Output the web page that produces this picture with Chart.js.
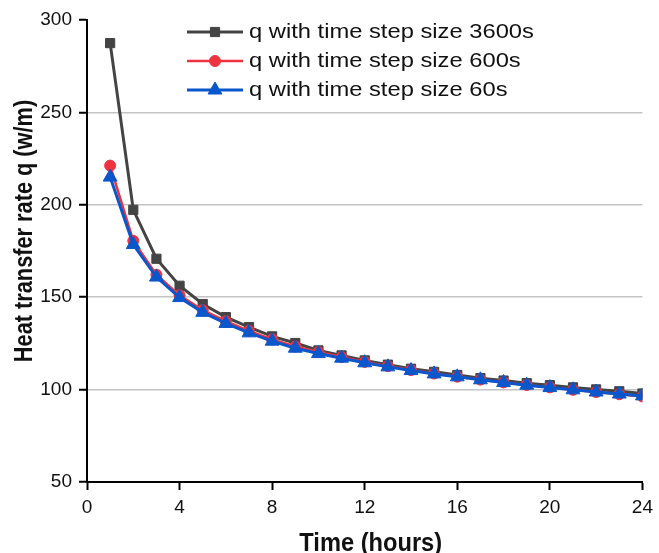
<!DOCTYPE html>
<html>
<head>
<meta charset="utf-8">
<script src="https://cdn.jsdelivr.net/npm/chart.js@4.4.1/dist/chart.umd.min.js"></script>
<style>
  html, body { margin: 0; padding: 0; background: #fff; }
  #container { width: 659px; height: 553px; position: relative; }
</style>
</head>
<body>
<div id="container"><canvas id="myChart"></canvas></div>
<script>
'use strict'
// heat transfer rate q (w/m) per hour for three time step sizes
const hours = [1, 2, 3, 4, 5, 6, 7, 8, 9, 10, 11, 12, 13, 14, 15, 16, 17, 18, 19, 20, 21, 22, 23, 24]
const q3600 = [287.5, 197.3, 170.8, 156.2, 146.3, 139.2, 133.8, 128.8, 125.2, 121.2, 118.5, 115.8, 113.5, 111.3, 109.6, 107.9, 106.2, 104.9, 103.5, 102.4, 101.2, 100.1, 99.1, 97.9]
const q600 = [221.2, 180.5, 162.2, 151.0, 143.0, 137.0, 131.8, 127.2, 123.3, 120.3, 117.6, 115.0, 112.7, 110.6, 108.7, 107.0, 105.4, 103.9, 102.5, 101.2, 99.9, 98.7, 97.5, 96.3]
const q60 = [215.0, 178.5, 160.9, 149.8, 141.8, 135.8, 130.7, 126.2, 122.4, 119.5, 117.0, 114.5, 112.3, 110.3, 108.5, 106.9, 105.3, 103.8, 102.4, 101.1, 99.9, 98.7, 97.6, 96.6]
const seriesNames = ["q with time step size 3600s", "q with time step size 600s", "q with time step size 60s"]
const xTicks = [0, 4, 8, 12, 16, 20, 24]
const yTicks = [50, 100, 150, 200, 250, 300]
const xTitle = "Time (hours)"
const yTitle = "Heat transfer rate q (w/m)"

const FONT = "'Liberation Sans', Arial, sans-serif"

function points(values) {
    return values.map((v, i) => ({ x: hours[i], y: v }))
}

// legend drawn inside the plot: line with marker, then label
const lineLegend = {
    id: 'lineLegend',
    afterDraw(chart) {
        const ctx = chart.ctx
        const x1 = 187, x2 = 243, xm = 215, xt = 249
        chart.data.datasets.forEach((ds, row) => {
            const y = 32 + row * 29
            ctx.save()
            ctx.strokeStyle = ds.borderColor
            ctx.lineWidth = ds.borderWidth
            ctx.beginPath()
            ctx.moveTo(x1, y)
            ctx.lineTo(x2, y)
            ctx.stroke()
            ctx.fillStyle = ds.pointBackgroundColor
            ctx.strokeStyle = ds.pointBorderColor
            ctx.lineWidth = ds.pointBorderWidth
            Chart.helpers.drawPoint(ctx, {
                pointStyle: ds.pointStyle,
                radius: ds.pointRadius,
                rotation: 0,
                borderWidth: ds.pointBorderWidth
            }, xm, y)
            ctx.fillStyle = '#111'
            ctx.font = '21px ' + FONT
            ctx.textBaseline = 'middle'
            ctx.textAlign = 'left'
            ctx.translate(xt, y)
            ctx.scale(1.13, 1)
            ctx.fillText(seriesNames[row], 0, 0)
            ctx.restore()
        })
    }
}

// axis titles
const axisTitles = {
    id: 'axisTitles',
    afterDraw(chart) {
        const ctx = chart.ctx
        const area = chart.chartArea
        ctx.save()
        ctx.fillStyle = '#111'
        ctx.font = 'bold 26px ' + FONT
        ctx.textAlign = 'center'
        ctx.textBaseline = 'alphabetic'
        ctx.translate((area.left + area.right) / 2 + 6, 551)
        ctx.scale(0.91, 1)
        ctx.fillText(xTitle, 0, 0)
        ctx.restore()

        ctx.save()
        ctx.fillStyle = '#111'
        ctx.font = 'bold 25px ' + FONT
        ctx.textAlign = 'center'
        ctx.textBaseline = 'alphabetic'
        ctx.translate(32, 231)
        ctx.rotate(-Math.PI / 2)
        ctx.scale(0.87, 1)
        ctx.fillText(yTitle, 0, 0)
        ctx.restore()
    }
}

const data = {
    datasets: [
        {
            label: seriesNames[0],
            data: points(q3600),
            borderColor: '#444444',
            backgroundColor: '#444444',
            borderWidth: 3,
            pointStyle: 'rect',
            pointRadius: 6.5,
            pointBorderWidth: 1,
            pointBackgroundColor: '#444444',
            pointBorderColor: '#444444',
            tension: 0,
            order: 2
        },
        {
            label: seriesNames[1],
            data: points(q600),
            borderColor: '#ee3340',
            backgroundColor: '#ee3340',
            borderWidth: 2.5,
            pointStyle: 'circle',
            pointRadius: 5.5,
            pointBorderWidth: 1,
            pointBackgroundColor: '#ee3340',
            pointBorderColor: '#ee3340',
            tension: 0,
            order: 1
        },
        {
            label: seriesNames[2],
            data: points(q60),
            borderColor: '#0a57cc',
            backgroundColor: '#0a57cc',
            borderWidth: 3,
            pointStyle: 'triangle',
            pointRadius: 8,
            pointBorderWidth: 1,
            pointBackgroundColor: '#0a57cc',
            pointBorderColor: '#0a57cc',
            tension: 0,
            order: 0
        }
    ]
}

const config = {
    type: 'line',
    data: data,
    options: {
        responsive: true,
        maintainAspectRatio: false,
        animation: false,
        layout: { padding: { top: 20, right: 12, left: 0, bottom: 0 } },
        plugins: {
            legend: { display: false },
            tooltip: { enabled: false }
        },
        scales: {
            x: {
                type: 'linear',
                min: 0,
                max: 24,
                afterBuildTicks: s => { s.ticks = xTicks.map(v => ({ value: v })) },
                afterFit: s => { s.height = 71 },
                border: { color: '#000', width: 2 },
                grid: {
                    drawOnChartArea: false,
                    drawTicks: true,
                    tickLength: 8,
                    tickColor: '#000',
                    tickWidth: 2
                },
                ticks: {
                    padding: 6,
                    maxRotation: 0,
                    color: '#111',
                    font: { family: FONT, size: 19 }
                }
            },
            y: {
                min: 50,
                max: 300,
                afterBuildTicks: s => { s.ticks = yTicks.map(v => ({ value: v })) },
                afterFit: s => { s.width = 87 },
                border: { color: '#000', width: 2 },
                grid: {
                    color: c => (c.tick && c.tick.value > 50 && c.tick.value < 300) ? '#c4c4c4' : 'rgba(0,0,0,0)',
                    lineWidth: 1.5,
                    drawTicks: true,
                    tickLength: 8,
                    tickColor: '#000',
                    tickWidth: 2
                },
                ticks: {
                    padding: 7,
                    color: '#111',
                    font: { family: FONT, size: 19 }
                }
            }
        }
    },
    plugins: [lineLegend, axisTitles]
}

const myChart = new Chart(document.getElementById('myChart'), config)
</script>
</body>
</html>
